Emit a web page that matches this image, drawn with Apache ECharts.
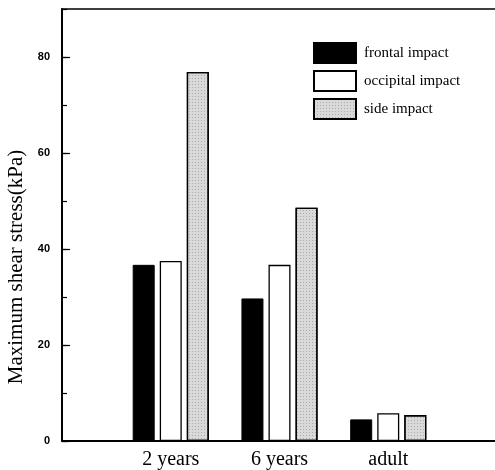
<!DOCTYPE html>
<html>
<head>
<meta charset="utf-8">
<script src="https://cdn.jsdelivr.net/npm/echarts@6/dist/echarts.min.js"></script>
<style>
html,body{margin:0;padding:0;background:#fff;}
#chart{width:495px;height:470px;}
</style>
</head>
<body>
<div id="chart"></div>
<script>
var categories = ['2 years', '6 years', 'adult'];
var frontal = [36.7, 29.7, 4.5];
var occipital = [37.5, 36.7, 5.8];
var side = [76.9, 48.6, 5.4];
var seriesNames = ['frontal impact', 'occipital impact', 'side impact'];
var yAxisName = 'Maximum shear stress(kPa)';

function pad(arr) { return ['-'].concat(arr).concat(['-']); }
var cats = [''].concat(categories).concat(['']);
var serif = '"Liberation Serif", "Times New Roman", serif';

var chart = echarts.init(document.getElementById('chart'), null, {renderer: 'canvas'});
chart.setOption({
  animation: false,
  backgroundColor: '#fff',
  grid: {left: 62, width: 435, top: 9, height: 432, containLabel: false, outerBoundsMode: 'none'},
  legend: {
    orient: 'vertical', left: 308, top: 37,
    itemWidth: 42, itemHeight: 20, itemGap: 6, icon: 'rect',
    textStyle: {fontFamily: serif, fontSize: 15, color: '#000', padding: [0, 0, 0, 3]},
    data: seriesNames
  },
  xAxis: [{
    type: 'category', data: cats, boundaryGap: false,
    axisLine: {lineStyle: {color: '#000', width: 2}},
    axisTick: {show: false},
    axisLabel: {color: '#000', fontFamily: serif, fontSize: 20, margin: 9, interval: 0},
    splitLine: {show: false}
  }, {
    type: 'category', data: cats, boundaryGap: false, position: 'top',
    axisLine: {onZero: false, lineStyle: {color: '#000', width: 1.5}},
    axisTick: {show: false}, axisLabel: {show: false}, splitLine: {show: false}
  }],
  yAxis: [{
    type: 'value', min: 0, max: 90, interval: 20, position: 'left',
    name: yAxisName, nameLocation: 'middle', nameGap: 34,
    nameTextStyle: {fontFamily: serif, fontSize: 21, color: '#000', padding: [0, 84, 0, 0]},
    axisLine: {show: true, lineStyle: {color: '#000', width: 2}},
    axisTick: {show: true, inside: true, length: 8, lineStyle: {color: '#000', width: 1.2}},
    axisLabel: {color: '#000', fontFamily: 'Liberation Sans, Arial, sans-serif', fontWeight: 'bold', fontSize: 11, margin: 12, showMaxLabel: false},
    splitLine: {show: false}
  }, {
    type: 'value', min: 0, max: 90, interval: 10, position: 'left',
    axisLine: {show: false, onZero: false},
    axisTick: {show: true, inside: true, length: 5, lineStyle: {color: '#000', width: 1.2}},
    axisLabel: {show: false},
    splitLine: {show: false}
  }],
  series: [{
    name: seriesNames[0], type: 'bar', data: pad(frontal),
    barWidth: 22, barGap: '23%',
    itemStyle: {color: '#000', borderColor: '#000', borderWidth: 1}
  }, {
    name: seriesNames[1], type: 'bar', data: pad(occipital),
    barWidth: 22, barGap: '23%',
    itemStyle: {color: '#fff', borderColor: '#000', borderWidth: 1.3}
  }, {
    name: seriesNames[2], type: 'bar', data: pad(side),
    barWidth: 22, barGap: '23%',
    itemStyle: {
      color: '#d9d9d9', borderColor: '#000', borderWidth: 1.3,
      decal: {symbol: 'rect', symbolSize: 1, color: 'rgba(90,90,90,0.35)', dashArrayX: [1, 2], dashArrayY: [1, 2], rotation: 0}
    }
  }]
});
</script>
</body>
</html>
